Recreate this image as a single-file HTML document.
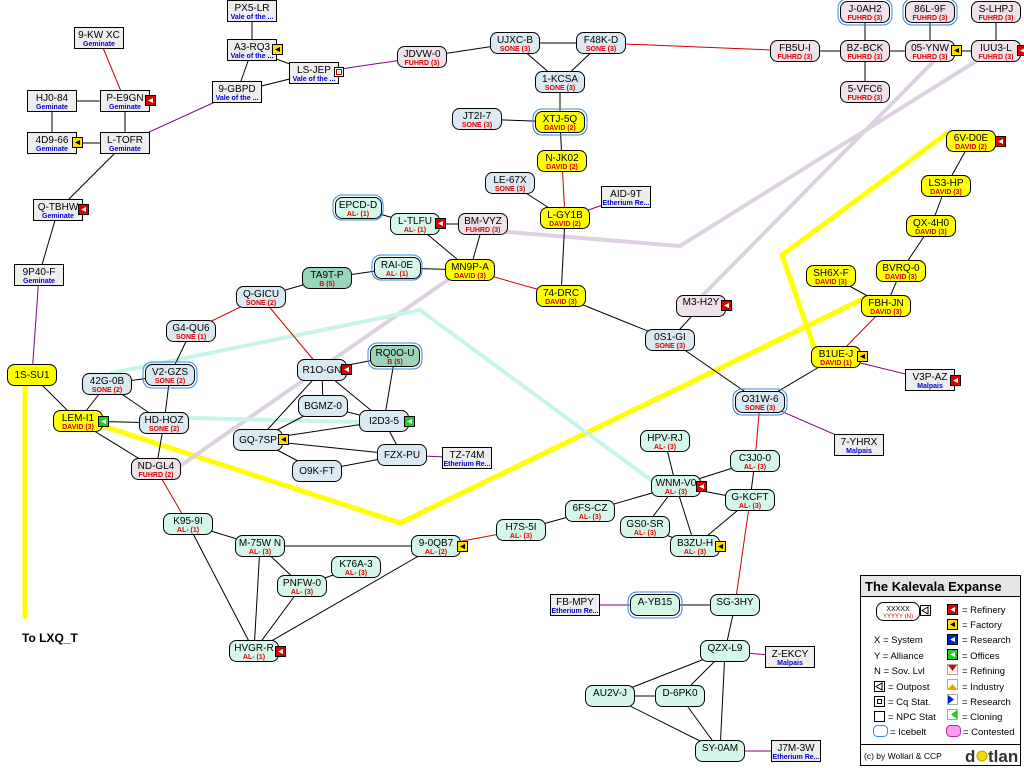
<!DOCTYPE html>
<html><head><meta charset="utf-8"><style>
html,body{margin:0;padding:0;background:#fff;width:1024px;height:768px;overflow:hidden}
svg{display:block;font-family:"Liberation Sans","DejaVu Sans",sans-serif}
.n{font-size:10px;fill:#000;text-anchor:middle}
.a{font-size:7px;fill:#e00000;text-anchor:middle;font-weight:bold}
.v{font-size:7px;fill:#0000d0;text-anchor:middle;font-weight:bold}
.k line{stroke:#000;stroke-width:1}
.r line{stroke:#d00000;stroke-width:1}
.p line{stroke:#800080;stroke-width:1}
.s{fill:#dbe9f2;stroke:#000;stroke-width:1}
.m{fill:#d4f7ea;stroke:#000;stroke-width:1}
.t{fill:#99d5b8;stroke:#000;stroke-width:1}
.y{fill:#ffff00;stroke:#000;stroke-width:1}
.f{fill:#f0e2ea;stroke:#000;stroke-width:1}
.g{fill:#eeeeee;stroke:#000;stroke-width:1}
.ib{fill:none;stroke:#3388dd;stroke-width:1}
.ir{fill:#dd0000;stroke:#000}
.if{fill:#ffdd00;stroke:#000}
.io{fill:#22cc22;stroke:#000}
</style></head><body>
<svg width="1024" height="768" viewBox="0 0 1024 768">
<!-- jump bridges / thick -->
<g fill="none" stroke-linecap="round">
<polyline points="25,380 25,617" stroke="#ffff00" stroke-width="5"/>
<polyline points="100,425 400,523 865,298" stroke="#ffff00" stroke-width="5"/>
<polyline points="946,134 782,255 815,350" stroke="#ffff00" stroke-width="5"/>
<polyline points="180,466 449,279" stroke="#ddd0e0" stroke-width="4"/>
<polyline points="495,231 680,246 978,60" stroke="#ddd0e0" stroke-width="4"/>
<polyline points="935,60 700,298" stroke="#ddd0e0" stroke-width="4"/>
<polyline points="112,373 420,310 651,480" stroke="#c6f6e8" stroke-width="4"/>
<polyline points="190,418 360,422" stroke="#c6f6e8" stroke-width="4"/>
</g>
<g class="k">
<line x1="252" y1="11" x2="252" y2="50"/><line x1="252" y1="50" x2="314" y2="73"/><line x1="252" y1="50" x2="237" y2="92"/><line x1="237" y1="92" x2="314" y2="73"/>
<line x1="52" y1="101" x2="125" y2="101"/><line x1="52" y1="101" x2="52" y2="143"/><line x1="125" y1="101" x2="125" y2="143"/><line x1="52" y1="143" x2="125" y2="143"/>
<line x1="115" y1="153" x2="58" y2="210"/><line x1="58" y1="210" x2="39" y2="275"/>
<line x1="422" y1="57" x2="515" y2="43"/><line x1="515" y1="43" x2="601" y2="43"/><line x1="515" y1="43" x2="560" y2="82"/><line x1="601" y1="43" x2="560" y2="82"/>
<line x1="560" y1="82" x2="560" y2="122"/><line x1="477" y1="119" x2="560" y2="122"/><line x1="560" y1="122" x2="562" y2="161"/>
<line x1="510" y1="183" x2="565" y2="218"/><line x1="565" y1="218" x2="561" y2="296"/><line x1="561" y1="296" x2="670" y2="340"/>
<line x1="670" y1="340" x2="760" y2="402"/><line x1="760" y1="402" x2="836" y2="357"/><line x1="670" y1="340" x2="701" y2="306"/>
<line x1="795" y1="51" x2="865" y2="51"/><line x1="865" y1="12" x2="865" y2="92"/><line x1="865" y1="51" x2="930" y2="51"/><line x1="930" y1="12" x2="930" y2="51"/><line x1="930" y1="51" x2="996" y2="51"/><line x1="996" y1="12" x2="996" y2="51"/>
<line x1="971" y1="141" x2="946" y2="186"/><line x1="946" y1="186" x2="931" y2="226"/><line x1="931" y1="226" x2="901" y2="271"/><line x1="901" y1="271" x2="886" y2="306"/><line x1="831" y1="276" x2="886" y2="306"/>
<line x1="358" y1="208" x2="415" y2="224"/><line x1="415" y1="224" x2="483" y2="224"/><line x1="415" y1="224" x2="470" y2="270"/><line x1="483" y1="224" x2="470" y2="270"/>
<line x1="397" y1="268" x2="470" y2="270"/><line x1="327" y1="278" x2="397" y2="268"/><line x1="261" y1="297" x2="327" y2="278"/>
<line x1="191" y1="331" x2="170" y2="375"/><line x1="107" y1="384" x2="170" y2="375"/><line x1="107" y1="384" x2="78" y2="421"/><line x1="32" y1="375" x2="78" y2="421"/>
<line x1="107" y1="384" x2="164" y2="423"/><line x1="170" y1="375" x2="164" y2="423"/><line x1="78" y1="421" x2="164" y2="423"/><line x1="78" y1="421" x2="156" y2="469"/><line x1="164" y1="423" x2="156" y2="469"/>
<line x1="322" y1="370" x2="395" y2="356"/><line x1="322" y1="370" x2="323" y2="406"/><line x1="322" y1="370" x2="258" y2="440"/><line x1="322" y1="370" x2="384" y2="421"/>
<line x1="323" y1="406" x2="384" y2="421"/><line x1="323" y1="406" x2="258" y2="440"/><line x1="395" y1="356" x2="384" y2="421"/><line x1="258" y1="440" x2="384" y2="421"/>
<line x1="258" y1="440" x2="402" y2="455"/><line x1="258" y1="440" x2="317" y2="471"/><line x1="384" y1="421" x2="402" y2="455"/><line x1="317" y1="471" x2="402" y2="455"/>
<line x1="188" y1="524" x2="260" y2="546"/><line x1="188" y1="524" x2="254" y2="651"/><line x1="260" y1="546" x2="436" y2="546"/><line x1="260" y1="546" x2="302" y2="586"/><line x1="260" y1="546" x2="254" y2="651"/>
<line x1="356" y1="567" x2="302" y2="586"/><line x1="302" y1="586" x2="254" y2="651"/><line x1="436" y1="546" x2="254" y2="651"/>
<line x1="521" y1="530" x2="590" y2="511"/><line x1="590" y1="511" x2="676" y2="486"/><line x1="676" y1="486" x2="665" y2="441"/><line x1="676" y1="486" x2="645" y2="527"/><line x1="676" y1="486" x2="695" y2="546"/>
<line x1="676" y1="486" x2="755" y2="461"/><line x1="676" y1="486" x2="750" y2="500"/><line x1="755" y1="461" x2="750" y2="500"/><line x1="750" y1="500" x2="695" y2="546"/><line x1="645" y1="527" x2="695" y2="546"/>
<line x1="655" y1="605" x2="735" y2="605"/><line x1="735" y1="605" x2="725" y2="651"/><line x1="725" y1="651" x2="610" y2="696"/><line x1="725" y1="651" x2="680" y2="696"/><line x1="725" y1="651" x2="720" y2="751"/>
<line x1="610" y1="696" x2="680" y2="696"/><line x1="610" y1="696" x2="720" y2="751"/><line x1="680" y1="696" x2="720" y2="751"/>
</g>
<g class="r">
<line x1="99" y1="38" x2="125" y2="101"/><line x1="562" y1="161" x2="565" y2="218"/><line x1="470" y1="270" x2="561" y2="296"/>
<line x1="601" y1="43" x2="795" y2="51"/><line x1="886" y1="306" x2="836" y2="357"/>
<line x1="261" y1="297" x2="191" y2="331"/><line x1="261" y1="297" x2="322" y2="370"/><line x1="156" y1="469" x2="188" y2="524"/>
<line x1="436" y1="546" x2="521" y2="530"/><line x1="755" y1="461" x2="760" y2="402"/><line x1="750" y1="500" x2="735" y2="605"/>
</g>
<g class="p">
<line x1="125" y1="143" x2="237" y2="92"/><line x1="39" y1="275" x2="32" y2="375"/><line x1="314" y1="73" x2="422" y2="57"/>
<line x1="565" y1="218" x2="626" y2="197"/><line x1="760" y1="402" x2="859" y2="445"/><line x1="836" y1="357" x2="930" y2="380"/>
<line x1="402" y1="455" x2="467" y2="458"/><line x1="575" y1="605" x2="655" y2="605"/><line x1="725" y1="651" x2="790" y2="657"/><line x1="720" y1="751" x2="796" y2="751"/>
</g>

<!-- NPC boxes -->
<g>
<rect class="g" x="227.5" y="0.5" width="49" height="21"/><text class="n" x="252" y="11">PX5-LR</text><text class="v" x="252" y="19">Vale of the ...</text>
<rect class="g" x="227.5" y="39.5" width="49" height="21"/><text class="n" x="252" y="50">A3-RQ3</text><text class="v" x="252" y="58">Vale of the ...</text>
<rect class="g" x="289.5" y="62.5" width="49" height="21"/><text class="n" x="314" y="73">LS-JEP</text><text class="v" x="314" y="81">Vale of the ...</text>
<rect class="g" x="212.5" y="81.5" width="49" height="21"/><text class="n" x="237" y="92">9-GBPD</text><text class="v" x="237" y="100">Vale of the ...</text>
<rect class="g" x="74.5" y="27.5" width="49" height="21"/><text class="n" x="99" y="38">9-KW XC</text><text class="v" x="99" y="46">Geminate</text>
<rect class="g" x="27.5" y="90.5" width="49" height="21"/><text class="n" x="52" y="101">HJ0-84</text><text class="v" x="52" y="109">Geminate</text>
<rect class="g" x="100.5" y="90.5" width="49" height="21"/><text class="n" x="125" y="101">P-E9GN</text><text class="v" x="125" y="109">Geminate</text>
<rect class="g" x="27.5" y="132.5" width="49" height="21"/><text class="n" x="52" y="143">4D9-66</text><text class="v" x="52" y="151">Geminate</text>
<rect class="g" x="100.5" y="132.5" width="49" height="21"/><text class="n" x="125" y="143">L-TOFR</text><text class="v" x="125" y="151">Geminate</text>
<rect class="g" x="33.5" y="199.5" width="49" height="21"/><text class="n" x="58" y="210">Q-TBHW</text><text class="v" x="58" y="218">Geminate</text>
<rect class="g" x="14.5" y="264.5" width="49" height="21"/><text class="n" x="39" y="275">9P40-F</text><text class="v" x="39" y="283">Geminate</text>
<rect class="g" x="601.5" y="186.5" width="49" height="21"/><text class="n" x="626" y="197">AID-9T</text><text class="v" x="626" y="205">Etherium Re...</text>
<rect class="g" x="442.5" y="447.5" width="49" height="21"/><text class="n" x="467" y="458">TZ-74M</text><text class="v" x="467" y="466">Etherium Re...</text>
<rect class="g" x="834.5" y="434.5" width="49" height="21"/><text class="n" x="859" y="445">7-YHRX</text><text class="v" x="859" y="453">Malpais</text>
<rect class="g" x="905.5" y="369.5" width="49" height="21"/><text class="n" x="930" y="380">V3P-AZ</text><text class="v" x="930" y="388">Malpais</text>
<rect class="g" x="550.5" y="594.5" width="49" height="21"/><text class="n" x="575" y="605">FB-MPY</text><text class="v" x="575" y="613">Etherium Re...</text>
<rect class="g" x="765.5" y="646.5" width="49" height="21"/><text class="n" x="790" y="657">Z-EKCY</text><text class="v" x="790" y="665">Malpais</text>
<rect class="g" x="771.5" y="740.5" width="49" height="21"/><text class="n" x="796" y="751">J7M-3W</text><text class="v" x="796" y="759">Etherium Re...</text>
</g>

<!-- icebelt outlines -->
<g>
<rect class="ib" x="333" y="195" width="50" height="25" rx="9"/>
<rect class="ib" x="372" y="255" width="50" height="25" rx="9"/>
<rect class="ib" x="533" y="109" width="54" height="26" rx="9"/>
<rect class="ib" x="143" y="362" width="54" height="26" rx="9"/>
<rect class="ib" x="368" y="343" width="54" height="26" rx="9"/>
<rect class="ib" x="733" y="389" width="54" height="26" rx="9"/>
<rect class="ib" x="628" y="592" width="54" height="26" rx="9"/>
<rect class="ib" x="838" y="-1" width="54" height="26" rx="9"/>
<rect class="ib" x="903" y="-1" width="54" height="26" rx="9"/>
</g>

<!-- rounded nodes -->
<g>
<rect class="f" x="397.5" y="46.5" width="49" height="21" rx="7"/><text class="n" x="422" y="57">JDVW-0</text><text class="a" x="422" y="65">FUHRD (3)</text>
<rect class="s" x="490.5" y="32.5" width="49" height="21" rx="7"/><text class="n" x="515" y="43">UJXC-B</text><text class="a" x="515" y="51">SONE (3)</text>
<rect class="s" x="576.5" y="32.5" width="49" height="21" rx="7"/><text class="n" x="601" y="43">F48K-D</text><text class="a" x="601" y="51">SONE (3)</text>
<rect class="s" x="535.5" y="71.5" width="49" height="21" rx="7"/><text class="n" x="560" y="82">1-KCSA</text><text class="a" x="560" y="90">SONE (3)</text>
<rect class="s" x="452.5" y="108.5" width="49" height="21" rx="7"/><text class="n" x="477" y="119">JT2I-7</text><text class="a" x="477" y="127">SONE (3)</text>
<rect class="y" x="535.5" y="111.5" width="49" height="21" rx="7"/><text class="n" x="560" y="122">XTJ-5Q</text><text class="a" x="560" y="130">DAVID (2)</text>
<rect class="y" x="537.5" y="150.5" width="49" height="21" rx="7"/><text class="n" x="562" y="161">N-JK02</text><text class="a" x="562" y="169">DAVID (2)</text>
<rect class="s" x="485.5" y="172.5" width="49" height="21" rx="7"/><text class="n" x="510" y="183">LE-67X</text><text class="a" x="510" y="191">SONE (3)</text>
<rect class="y" x="540.5" y="207.5" width="49" height="21" rx="7"/><text class="n" x="565" y="218">L-GY1B</text><text class="a" x="565" y="226">DAVID (2)</text>
<rect class="y" x="536.5" y="285.5" width="49" height="21" rx="7"/><text class="n" x="561" y="296">74-DRC</text><text class="a" x="561" y="304">DAVID (3)</text>
<rect class="f" x="458.5" y="213.5" width="49" height="21" rx="7"/><text class="n" x="483" y="224">BM-VYZ</text><text class="a" x="483" y="232">FUHRD (3)</text>
<rect class="m" x="390.5" y="213.5" width="49" height="21" rx="7"/><text class="n" x="415" y="224">L-TLFU</text><text class="a" x="415" y="232">AL- (1)</text>
<rect class="m" x="335.5" y="197.5" width="46" height="21" rx="7"/><text class="n" x="358" y="208">EPCD-D</text><text class="a" x="358" y="216">AL- (1)</text>
<rect class="y" x="445.5" y="259.5" width="49" height="21" rx="7"/><text class="n" x="470" y="270">MN9P-A</text><text class="a" x="470" y="278">DAVID (3)</text>
<rect class="m" x="374.5" y="257.5" width="46" height="21" rx="7"/><text class="n" x="397" y="268">RAI-0E</text><text class="a" x="397" y="276">AL- (1)</text>
<rect class="t" x="302.5" y="267.5" width="49" height="21" rx="7"/><text class="n" x="327" y="278">TA9T-P</text><text class="a" x="327" y="286">B (5)</text>
<rect class="s" x="236.5" y="286.5" width="49" height="21" rx="7"/><text class="n" x="261" y="297">Q-GICU</text><text class="a" x="261" y="305">SONE (2)</text>
<rect class="s" x="166.5" y="320.5" width="49" height="21" rx="7"/><text class="n" x="191" y="331">G4-QU6</text><text class="a" x="191" y="339">SONE (1)</text>
<rect class="y" x="7.5" y="364.5" width="49" height="21" rx="7"/><text class="n" x="32" y="378">1S-SU1</text>
<rect class="s" x="82.5" y="373.5" width="49" height="21" rx="7"/><text class="n" x="107" y="384">42G-0B</text><text class="a" x="107" y="392">SONE (2)</text>
<rect class="s" x="145.5" y="364.5" width="49" height="21" rx="7"/><text class="n" x="170" y="375">V2-GZS</text><text class="a" x="170" y="383">SONE (2)</text>
<rect class="y" x="53.5" y="410.5" width="49" height="21" rx="7"/><text class="n" x="78" y="421">LEM-I1</text><text class="a" x="78" y="429">DAVID (3)</text>
<rect class="s" x="139.5" y="412.5" width="49" height="21" rx="7"/><text class="n" x="164" y="423">HD-HOZ</text><text class="a" x="164" y="431">SONE (2)</text>
<rect class="f" x="131.5" y="458.5" width="49" height="21" rx="7"/><text class="n" x="156" y="469">ND-GL4</text><text class="a" x="156" y="477">FUHRD (2)</text>
<rect class="s" x="297.5" y="359.5" width="49" height="21" rx="7"/><text class="n" x="322" y="373">R1O-GN</text>
<rect class="t" x="370.5" y="345.5" width="49" height="21" rx="7"/><text class="n" x="395" y="356">RQ0O-U</text><text class="a" x="395" y="364">B (5)</text>
<rect class="s" x="298.5" y="395.5" width="49" height="21" rx="7"/><text class="n" x="323" y="409">BGMZ-0</text>
<rect class="s" x="359.5" y="410.5" width="49" height="21" rx="7"/><text class="n" x="384" y="424">I2D3-5</text>
<rect class="s" x="233.5" y="429.5" width="49" height="21" rx="7"/><text class="n" x="258" y="443">GQ-7SP</text>
<rect class="s" x="377.5" y="444.5" width="49" height="21" rx="7"/><text class="n" x="402" y="458">FZX-PU</text>
<rect class="s" x="292.5" y="460.5" width="49" height="21" rx="7"/><text class="n" x="317" y="474">O9K-FT</text>
<rect class="m" x="163.5" y="513.5" width="49" height="21" rx="7"/><text class="n" x="188" y="524">K95-9I</text><text class="a" x="188" y="532">AL- (1)</text>
<rect class="m" x="235.5" y="535.5" width="49" height="21" rx="7"/><text class="n" x="260" y="546">M-75W N</text><text class="a" x="260" y="554">AL- (3)</text>
<rect class="m" x="331.5" y="556.5" width="49" height="21" rx="7"/><text class="n" x="356" y="567">K76A-3</text><text class="a" x="356" y="575">AL- (3)</text>
<rect class="m" x="277.5" y="575.5" width="49" height="21" rx="7"/><text class="n" x="302" y="586">PNFW-0</text><text class="a" x="302" y="594">AL- (3)</text>
<rect class="m" x="411.5" y="535.5" width="49" height="21" rx="7"/><text class="n" x="436" y="546">9-0QB7</text><text class="a" x="436" y="554">AL- (2)</text>
<rect class="m" x="229.5" y="640.5" width="49" height="21" rx="7"/><text class="n" x="254" y="651">HVGR-R</text><text class="a" x="254" y="659">AL- (1)</text>
<rect class="m" x="496.5" y="519.5" width="49" height="21" rx="7"/><text class="n" x="521" y="530">H7S-5I</text><text class="a" x="521" y="538">AL- (3)</text>
<rect class="m" x="565.5" y="500.5" width="49" height="21" rx="7"/><text class="n" x="590" y="511">6FS-CZ</text><text class="a" x="590" y="519">AL- (3)</text>
<rect class="m" x="620.5" y="516.5" width="49" height="21" rx="7"/><text class="n" x="645" y="527">GS0-SR</text><text class="a" x="645" y="535">AL- (3)</text>
<rect class="m" x="651.5" y="475.5" width="49" height="21" rx="7"/><text class="n" x="676" y="486">WNM-V0</text><text class="a" x="676" y="494">AL- (3)</text>
<rect class="m" x="640.5" y="430.5" width="49" height="21" rx="7"/><text class="n" x="665" y="441">HPV-RJ</text><text class="a" x="665" y="449">AL- (3)</text>
<rect class="m" x="730.5" y="450.5" width="49" height="21" rx="7"/><text class="n" x="755" y="461">C3J0-0</text><text class="a" x="755" y="469">AL- (3)</text>
<rect class="m" x="725.5" y="489.5" width="49" height="21" rx="7"/><text class="n" x="750" y="500">G-KCFT</text><text class="a" x="750" y="508">AL- (3)</text>
<rect class="m" x="670.5" y="535.5" width="49" height="21" rx="7"/><text class="n" x="695" y="546">B3ZU-H</text><text class="a" x="695" y="554">AL- (3)</text>
<rect class="m" x="630.5" y="594.5" width="49" height="21" rx="7"/><text class="n" x="655" y="605">A-YB15</text>
<rect class="m" x="710.5" y="594.5" width="49" height="21" rx="7"/><text class="n" x="735" y="605">SG-3HY</text>
<rect class="m" x="700.5" y="640.5" width="49" height="21" rx="7"/><text class="n" x="725" y="651">QZX-L9</text>
<rect class="m" x="585.5" y="685.5" width="49" height="21" rx="7"/><text class="n" x="610" y="696">AU2V-J</text>
<rect class="m" x="655.5" y="685.5" width="49" height="21" rx="7"/><text class="n" x="680" y="696">D-6PK0</text>
<rect class="m" x="695.5" y="740.5" width="49" height="21" rx="7"/><text class="n" x="720" y="751">SY-0AM</text>
<rect class="s" x="645.5" y="329.5" width="49" height="21" rx="7"/><text class="n" x="670" y="340">0S1-GI</text><text class="a" x="670" y="348">SONE (3)</text>
<rect class="f" x="676.5" y="295.5" width="49" height="21" rx="7"/><text class="n" x="701" y="305">M3-H2Y</text>
<rect class="s" x="735.5" y="391.5" width="49" height="21" rx="7"/><text class="n" x="760" y="402">O31W-6</text><text class="a" x="760" y="410">SONE (3)</text>
<rect class="f" x="770.5" y="40.5" width="49" height="21" rx="7"/><text class="n" x="795" y="51">FB5U-I</text><text class="a" x="795" y="59">FUHRD (3)</text>
<rect class="f" x="840.5" y="40.5" width="49" height="21" rx="7"/><text class="n" x="865" y="51">BZ-BCK</text><text class="a" x="865" y="59">FUHRD (3)</text>
<rect class="f" x="840.5" y="1.5" width="49" height="21" rx="7"/><text class="n" x="865" y="12">J-0AH2</text><text class="a" x="865" y="20">FUHRD (3)</text>
<rect class="f" x="840.5" y="81.5" width="49" height="21" rx="7"/><text class="n" x="865" y="92">5-VFC6</text><text class="a" x="865" y="100">FUHRD (3)</text>
<rect class="f" x="905.5" y="40.5" width="49" height="21" rx="7"/><text class="n" x="930" y="51">05-YNW</text><text class="a" x="930" y="59">FUHRD (3)</text>
<rect class="f" x="905.5" y="1.5" width="49" height="21" rx="7"/><text class="n" x="930" y="12">86L-9F</text><text class="a" x="930" y="20">FUHRD (3)</text>
<rect class="f" x="971.5" y="1.5" width="49" height="21" rx="7"/><text class="n" x="996" y="12">S-LHPJ</text><text class="a" x="996" y="20">FUHRD (3)</text>
<rect class="f" x="971.5" y="40.5" width="49" height="21" rx="7"/><text class="n" x="996" y="51">IUU3-L</text><text class="a" x="996" y="59">FUHRD (3)</text>
<rect class="y" x="946.5" y="130.5" width="49" height="21" rx="7"/><text class="n" x="971" y="141">6V-D0E</text><text class="a" x="971" y="149">DAVID (2)</text>
<rect class="y" x="921.5" y="175.5" width="49" height="21" rx="7"/><text class="n" x="946" y="186">LS3-HP</text><text class="a" x="946" y="194">DAVID (3)</text>
<rect class="y" x="906.5" y="215.5" width="49" height="21" rx="7"/><text class="n" x="931" y="226">QX-4H0</text><text class="a" x="931" y="234">DAVID (3)</text>
<rect class="y" x="876.5" y="260.5" width="49" height="21" rx="7"/><text class="n" x="901" y="271">BVRQ-0</text><text class="a" x="901" y="279">DAVID (3)</text>
<rect class="y" x="806.5" y="265.5" width="49" height="21" rx="7"/><text class="n" x="831" y="276">SH6X-F</text><text class="a" x="831" y="284">DAVID (3)</text>
<rect class="y" x="861.5" y="295.5" width="49" height="21" rx="7"/><text class="n" x="886" y="306">FBH-JN</text><text class="a" x="886" y="314">DAVID (3)</text>
<rect class="y" x="811.5" y="346.5" width="49" height="21" rx="7"/><text class="n" x="836" y="357">B1UE-J</text><text class="a" x="836" y="365">DAVID (1)</text>
</g>

<!-- station icons -->
<g>
<rect class="ir" x="145.5" y="95.5" width="10" height="10"/>
<rect class="if" x="72.5" y="137.5" width="10" height="10"/>
<rect class="if" x="272.5" y="44.5" width="10" height="10"/>
<rect fill="#fff" stroke="#000" x="334.5" y="67.5" width="9" height="9"/><rect fill="none" stroke="#c00" x="336.5" y="69.5" width="5" height="5"/>
<rect class="ir" x="78.5" y="204.5" width="10" height="10"/>
<rect class="ir" x="435.5" y="218.5" width="10" height="10"/>
<rect class="io" x="98.5" y="416.5" width="10" height="10"/>
<rect class="ir" x="341.5" y="364.5" width="10" height="10"/>
<rect class="io" x="404.5" y="416.5" width="10" height="10"/>
<rect class="if" x="278.5" y="434.5" width="10" height="10"/>
<rect class="if" x="457.5" y="541.5" width="10" height="10"/>
<rect class="ir" x="275.5" y="646.5" width="10" height="10"/>
<rect class="ir" x="696.5" y="481.5" width="10" height="10"/>
<rect class="if" x="715.5" y="541.5" width="10" height="10"/>
<rect class="ir" x="721.5" y="300.5" width="10" height="10"/>
<rect class="if" x="951.5" y="45.5" width="10" height="10"/>
<rect class="ir" x="1017.5" y="45.5" width="10" height="10"/>
<rect class="ir" x="995.5" y="136.5" width="10" height="10"/>
<rect class="if" x="857.5" y="351.5" width="10" height="10"/>
<rect class="ir" x="950.5" y="375.5" width="10" height="10"/>
</g>
<g fill="#fff">
<polygon points="148,100.5 153,98 153,103"/><polygon points="75,142.5 80,140 80,145" fill="#000"/>
<polygon points="275,49.5 280,47 280,52" fill="#000"/><polygon points="81,209.5 86,207 86,212"/>
<polygon points="438,223.5 443,221 443,226"/><polygon points="101,421.5 106,419 106,424"/>
<polygon points="344,369.5 349,367 349,372"/><polygon points="407,421.5 412,419 412,424"/>
<polygon points="281,439.5 286,437 286,442" fill="#000"/><polygon points="460,546.5 465,544 465,549" fill="#000"/>
<polygon points="278,651.5 283,649 283,654"/><polygon points="699,486.5 704,484 704,489"/>
<polygon points="718,546.5 723,544 723,549" fill="#000"/><polygon points="724,305.5 729,303 729,308"/>
<polygon points="954,50.5 959,48 959,53" fill="#000"/><polygon points="1020,50.5 1025,48 1025,53"/>
<polygon points="998,141.5 1003,139 1003,144"/><polygon points="860,356.5 865,354 865,359" fill="#000"/>
<polygon points="953,380.5 958,378 958,383"/>
</g>

<text x="22" y="642" font-size="12" font-weight="bold" fill="#000">To  LXQ_T</text>

<!-- legend -->
<g>
<rect x="860.5" y="575.5" width="160" height="190" fill="#fff" stroke="#000"/>
<rect x="861" y="576" width="159" height="20" fill="#e6e6e6"/>
<line x1="860.5" y1="596.5" x2="1020.5" y2="596.5" stroke="#000"/>
<text x="865" y="591" font-size="13" font-weight="bold" fill="#000">The Kalevala Expanse</text>
<rect x="876.5" y="602.5" width="43" height="18" rx="7" fill="#fff" stroke="#000"/>
<text x="898" y="611" font-size="7" text-anchor="middle">XXXXX</text><text x="898" y="618" font-size="6" fill="#e00000" text-anchor="middle">YYYYY (N)</text>
<rect x="920.5" y="605.5" width="10" height="10" fill="#fff" stroke="#000"/><polygon points="922,610.5 928,607 928,614" fill="none" stroke="#000"/>
<text x="874" y="643" font-size="9.5">X  = System</text>
<text x="874" y="659" font-size="9.5">Y  = Alliance</text>
<text x="874" y="674" font-size="9.5">N  = Sov. Lvl</text>
<rect x="874.5" y="681.5" width="10" height="10" fill="#fff" stroke="#000"/><polygon points="876,686.5 882,683 882,690" fill="none" stroke="#000"/>
<text x="888" y="690" font-size="9.5">= Outpost</text>
<rect x="874.5" y="696.5" width="10" height="10" fill="#fff" stroke="#000"/><rect x="877.5" y="699.5" width="4" height="4" fill="none" stroke="#000"/>
<text x="888" y="705" font-size="9.5">= Cq Stat.</text>
<rect x="874.5" y="711.5" width="10" height="10" fill="#fff" stroke="#000"/>
<text x="888" y="720" font-size="9.5">= NPC Stat</text>
<rect x="873.5" y="725.5" width="14" height="11" rx="4" fill="#fff" stroke="#3388dd"/>
<text x="890" y="735" font-size="9.5">= Icebelt</text>
<rect x="947.5" y="604.5" width="10" height="10" class="ir"/><polygon points="950,609.5 955,607 955,612" fill="#fff"/>
<text x="962" y="613" font-size="9.5">= Refinery</text>
<rect x="947.5" y="619.5" width="10" height="10" class="if"/><polygon points="950,624.5 955,622 955,627" fill="#000"/>
<text x="962" y="628" font-size="9.5">= Factory</text>
<rect x="947.5" y="634.5" width="10" height="10" fill="#0022cc" stroke="#000"/><polygon points="950,639.5 955,637 955,642" fill="#fff"/>
<text x="962" y="643" font-size="9.5">= Research</text>
<rect x="947.5" y="649.5" width="10" height="10" class="io"/><polygon points="950,654.5 955,652 955,657" fill="#fff"/>
<text x="962" y="659" font-size="9.5">= Offices</text>
<rect x="947.5" y="664.5" width="10" height="10" fill="#fff" stroke="#aaa"/><polygon points="948,665 957,665 952.5,671" fill="#dd0000"/>
<text x="962" y="674" font-size="9.5">= Refining</text>
<rect x="947.5" y="679.5" width="10" height="10" fill="#fff" stroke="#aaa"/><polygon points="948,689 957,689 952.5,684" fill="#ddaa00"/>
<text x="962" y="690" font-size="9.5">= Industry</text>
<rect x="947.5" y="694.5" width="10" height="10" fill="#fff" stroke="#aaa"/><polygon points="948,695 954,699.5 948,704" fill="#0022cc"/>
<text x="962" y="705" font-size="9.5">= Research</text>
<rect x="947.5" y="709.5" width="10" height="10" fill="#fff" stroke="#aaa"/><polygon points="957,710 951,714.5 957,719" fill="#22cc22"/>
<text x="962" y="720" font-size="9.5">= Cloning</text>
<rect x="946.5" y="725.5" width="14" height="11" rx="4" fill="#ff99ee" stroke="#aa33aa"/>
<text x="963" y="735" font-size="9.5">= Contested</text>
<line x1="860.5" y1="744.5" x2="1020.5" y2="744.5" stroke="#000"/>
<text x="864" y="759" font-size="8.5">(c) by Wollari &amp; CCP</text>
<text x="965" y="762" font-size="17" font-weight="bold" fill="#333">d</text>
<circle cx="982" cy="756" r="5" fill="#eedd00" stroke="#cc9900"/>
<text x="988" y="762" font-size="17" font-weight="bold" fill="#333">tlan</text>
</g>
</svg>
</body></html>
